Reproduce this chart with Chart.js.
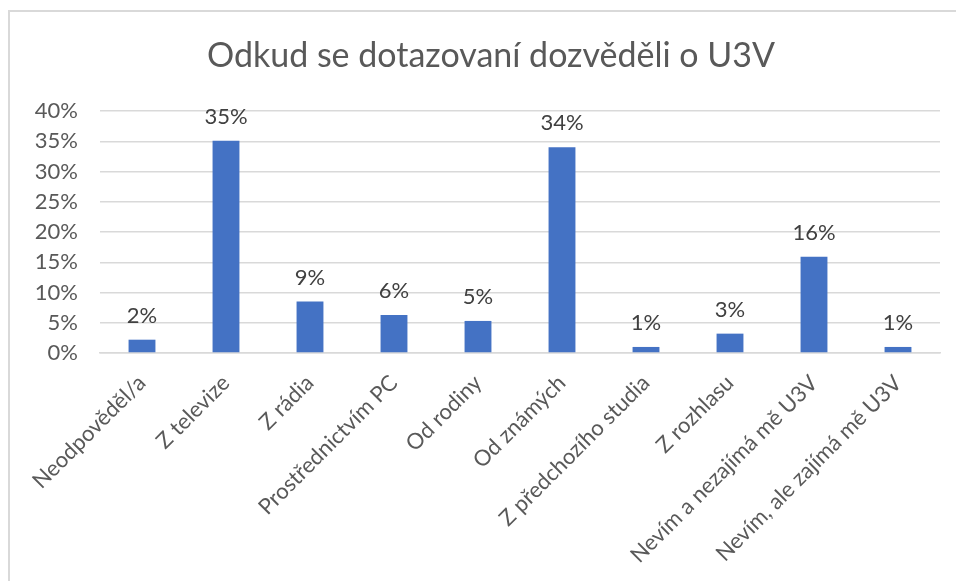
<!DOCTYPE html>
<html>
<head>
<meta charset="utf-8">
<script src="https://cdn.jsdelivr.net/npm/chart.js@4"></script>
<style>
  html, body { margin: 0; padding: 0; background: #fff; }
  #wrap { position: relative; width: 956px; height: 581px; overflow: hidden; }
  #frame { position: absolute; left: 8px; top: 10px; width: 1000px; height: 600px;
           border-left: 2px solid #d9d9d9; border-top: 2px solid #d9d9d9; }
  canvas { position: absolute; left: 0; top: 0; }
</style>
</head>
<body>
<div id="wrap">
  <div id="frame"></div>
  <canvas id="chart" width="956" height="581"></canvas>
</div>
<script>
const categories = ["Neodpověděl/a", "Z televize", "Z rádia", "Prostřednictvím PC", "Od rodiny",
  "Od známých", "Z předchozího studia", "Z rozhlasu", "Nevím a nezajímá mě U3V", "Nevím, ale zajímá mě U3V"];
const shares = [2.2, 35.1, 8.5, 6.3, 5.3, 34.0, 1.0, 3.2, 15.9, 1.0];
const title_text = "Odkud se dotazovaní dozvěděli o U3V";

const font_family = "Lato, 'Open Sans', sans-serif";
const text_grey = "#595959";

// labels above the bars
const valueLabels = {
  id: "valueLabels",
  afterDatasetsDraw(chart) {
    const ctx = chart.ctx;
    const meta = chart.getDatasetMeta(0);
    ctx.save();
    ctx.font = "22px " + font_family;
    ctx.fillStyle = "#404040";
    ctx.textAlign = "center";
    ctx.textBaseline = "middle";
    meta.data.forEach((bar, i) => {
      ctx.fillText(Math.round(shares[i]) + "%", bar.x, bar.y - 24);
    });
    ctx.restore();
  }
};

// title sits a bit right of the canvas centre, like in the excel export
const chartTitle = {
  id: "chartTitle",
  afterDraw(chart) {
    const ctx = chart.ctx;
    ctx.save();
    ctx.font = "34px " + font_family;
    ctx.fillStyle = text_grey;
    ctx.textAlign = "center";
    ctx.textBaseline = "middle";
    ctx.fillText(title_text, 491, 56);
    ctx.restore();
  }
};

new Chart(document.getElementById("chart").getContext("2d"), {
  type: "bar",
  data: {
    labels: categories,
    datasets: [{
      data: shares,
      backgroundColor: "#4472C4",
      barPercentage: 0.64,
      categoryPercentage: 0.5
    }]
  },
  options: {
    responsive: false,
    animation: false,
    layout: { padding: { left: 0, right: 16, top: 111, bottom: 0 } },
    plugins: {
      legend: { display: false },
      tooltip: { enabled: false },
      title: { display: false }
    },
    scales: {
      y: {
        min: 0,
        max: 40,
        ticks: {
          stepSize: 5,
          padding: 22,
          color: text_grey,
          font: { family: font_family, size: 22 },
          callback: v => v + "%"
        },
        grid: { color: "#d9d9d9", lineWidth: 1.5, drawTicks: false },
        border: { display: false },
        afterFit: s => { s.width = 100; }
      },
      x: {
        ticks: {
          minRotation: 45,
          maxRotation: 45,
          padding: 17,
          color: text_grey,
          font: { family: font_family, size: 22 }
        },
        grid: { display: false, drawTicks: false },
        border: { color: "#d9d9d9", width: 1.5 },
        afterFit: s => { s.height = 228; }
      }
    }
  },
  plugins: [valueLabels, chartTitle]
});
</script>
</body>
</html>
